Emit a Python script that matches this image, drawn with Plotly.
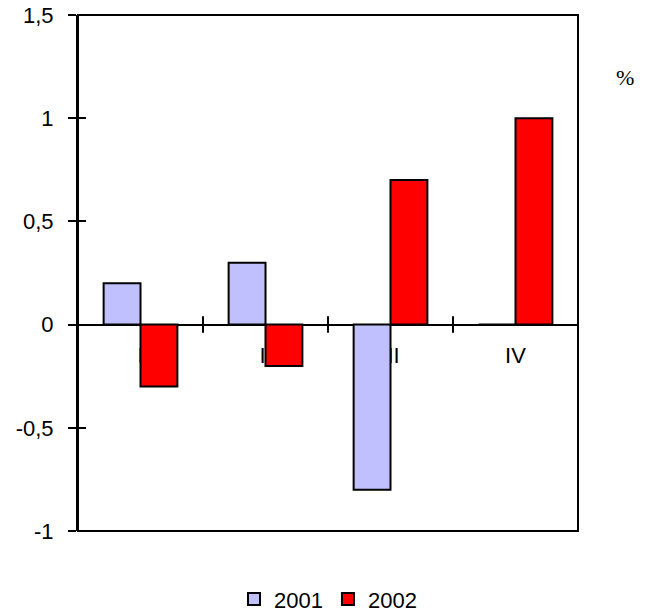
import plotly.graph_objects as go

categories = ["I", "II", "III", "IV"]
series_names = ["2001", "2002"]
values_2001 = [0.2, 0.3, -0.8, 0]
values_2002 = [-0.3, -0.2, 0.7, 1.0]
y_ticks = [-1, -0.5, 0, 0.5, 1, 1.5]
y_tick_labels = ["-1", "-0,5", "0", "0,5", "1", "1,5"]
unit_label = "%"

FONT = "Liberation Sans, Arial, sans-serif"
FS = 22
LW = 2
fig = go.Figure()
fig.add_trace(go.Bar(x=categories, y=values_2001, name=series_names[0],
                     marker=dict(color="#c0c0ff", line=dict(color="black", width=LW))))
fig.add_trace(go.Bar(x=categories, y=values_2002, name=series_names[1],
                     marker=dict(color="#ff0000", line=dict(color="black", width=LW))))
# invisible trace for inside-tick overlay axis
fig.add_trace(go.Scatter(x=[categories[0]], y=[0], yaxis="y2", mode="markers",
                         marker=dict(opacity=0), showlegend=False, hoverinfo="skip"))

rng = [min(y_ticks), max(y_ticks)]
zero_pos = (0 - rng[0]) / (rng[1] - rng[0])

shapes = [dict(type="rect", xref="paper", yref="paper", x0=0, x1=1, y0=0, y1=1,
               line=dict(color="black", width=LW), layer="above")]
for i in range(1, len(categories)):
    shapes.append(dict(type="line", xref="x", yref="y", x0=i - 0.5, x1=i - 0.5,
                       y0=-0.04, y1=0.04, line=dict(color="black", width=LW)))

fig.update_layout(
    width=662, height=611,
    margin=dict(l=78, r=84, t=15, b=80, autoexpand=False),
    paper_bgcolor="white", plot_bgcolor="white",
    barmode="group", bargap=0.41, bargroupgap=0,
    font=dict(family=FONT, size=FS, color="black"),
    xaxis=dict(anchor="free", position=zero_pos, showline=True, linecolor="black",
               linewidth=LW, ticks="", showgrid=False, zeroline=False,
               layer="below traces", ticklabelstandoff=11,
               tickfont=dict(size=FS)),
    yaxis=dict(range=rng, tickvals=y_ticks, ticktext=y_tick_labels,
               ticks="outside", ticklen=8, ticklabelstandoff=10,
               tickwidth=LW, tickcolor="black", showline=True, linecolor="black",
               linewidth=LW, showgrid=False, zeroline=False, tickfont=dict(size=FS)),
    yaxis2=dict(range=rng, tickvals=y_ticks, overlaying="y", side="left",
                ticks="inside", ticklen=8, tickwidth=LW, tickcolor="black",
                showticklabels=False, showline=False, showgrid=False, zeroline=False),
    legend=dict(orientation="h", x=0.5, xanchor="center", y=-0.132, yanchor="middle",
                font=dict(size=FS), itemwidth=30, tracegroupgap=0),
    shapes=shapes,
    annotations=[dict(text=unit_label, xref="paper", yref="paper", x=1.094, y=0.878,
                      xanchor="center", yanchor="middle", showarrow=False,
                      font=dict(family="Liberation Serif, serif", size=FS))],
)
fig.write_html("out.html")
